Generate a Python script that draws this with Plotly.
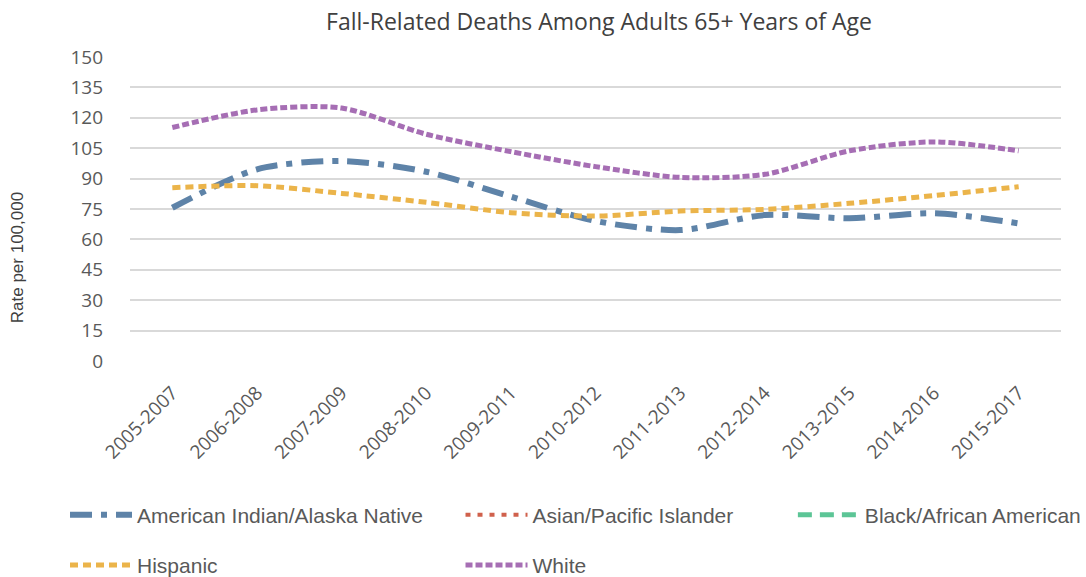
import plotly.graph_objects as go

# -----------------------------------
# Data
# -----------------------------------
periods = [
    "2005-2007", "2006-2008", "2007-2009", "2008-2010", "2009-2011",
    "2010-2012", "2011-2013", "2012-2014", "2013-2015", "2014-2016",
    "2015-2017",
]

ai_an = [75.6, 94.6, 98.7, 93.4, 81.1, 69.1, 64.6, 72.0, 70.4, 72.9, 67.9]
asian_pi = [None] * 11
black_aa = [None] * 11
hispanic = [85.5, 86.5, 82.7, 78.3, 73.2, 71.5, 74.0, 74.8, 77.8, 81.6, 86.0]
white = [115.2, 123.9, 124.8, 111.9, 103.3, 95.9, 90.6, 92.1, 103.7, 108.1, 103.7]

y_ticks = list(range(0, 151, 15))

# -----------------------------------
# Figure
# -----------------------------------
# name, values, colour, dash, width, legend id, legend x, legend y
series = [
    ("American Indian/Alaska Native", ai_an, "#5E83A8", "22px,9px,6px,9px", 6, "legend", -0.0698, -0.507),
    ("Asian/Pacific Islander", asian_pi, "#D0614C", "5px,7px", 4, "legend2", 0.355, -0.507),
    ("Black/African American", black_aa, "#5CC596", "14px,8px", 5, "legend3", 0.712, -0.507),
    ("Hispanic", hispanic, "#EBB44A", "8px,5px", 5, "legend4", -0.0698, -0.672),
    ("White", white, "#A66EB4", "7px,3px", 5, "legend5", 0.355, -0.672),
]

fig = go.Figure()

legend_layout = {}
for name, values, color, dash, width, leg, lx, ly in series:
    fig.add_trace(
        go.Scatter(
            x=periods,
            y=values,
            name=name,
            mode="lines",
            line=dict(color=color, dash=dash, width=width, shape="spline", smoothing=0.8),
            legend=leg,
        )
    )
    legend_layout[leg] = dict(
        x=lx,
        y=ly,
        xanchor="left",
        yanchor="middle",
        orientation="h",
        itemwidth=62,
        font=dict(family="Liberation Sans", size=21, color="#595959"),
        bgcolor="rgba(0,0,0,0)",
    )

fig.update_layout(
    width=1086,
    height=577,
    template="plotly_white",
    plot_bgcolor="white",
    paper_bgcolor="white",
    showlegend=True,
    margin=dict(l=130, r=25, t=57, b=216, autoexpand=False),
    title=dict(
        text="Fall-Related Deaths Among Adults 65+ Years of Age",
        x=0.5516,
        xanchor="center",
        y=0.962,
        yanchor="middle",
        font=dict(family="Open Sans", size=23, color="#404040"),
    ),
    xaxis=dict(
        range=[-0.5, len(periods) - 0.5],
        showgrid=False,
        showline=False,
        zeroline=False,
        tickangle=-45,
        ticklabelstandoff=16,
        tickfont=dict(family="Open Sans", size=19, color="#595959"),
    ),
    yaxis=dict(
        range=[0, 150],
        tickvals=y_ticks,
        gridcolor="#D9D9D9",
        gridwidth=1.5,
        zeroline=False,
        showline=False,
        ticklabelstandoff=26,
        tickfont=dict(family="Open Sans", size=19, color="#595959"),
    ),
    annotations=[
        dict(
            text="Rate per 100,000",
            xref="paper",
            yref="paper",
            x=-0.120,
            y=0.339,
            xanchor="center",
            yanchor="middle",
            textangle=-90,
            showarrow=False,
            font=dict(family="Liberation Sans", size=17, color="#404040"),
        )
    ],
    **legend_layout,
)

# drop the page's default body margin so the figure sits at the top-left corner
fig.write_html(
    "out.html",
    config={"displayModeBar": False},
    post_script="document.body.style.margin='0';",
)
